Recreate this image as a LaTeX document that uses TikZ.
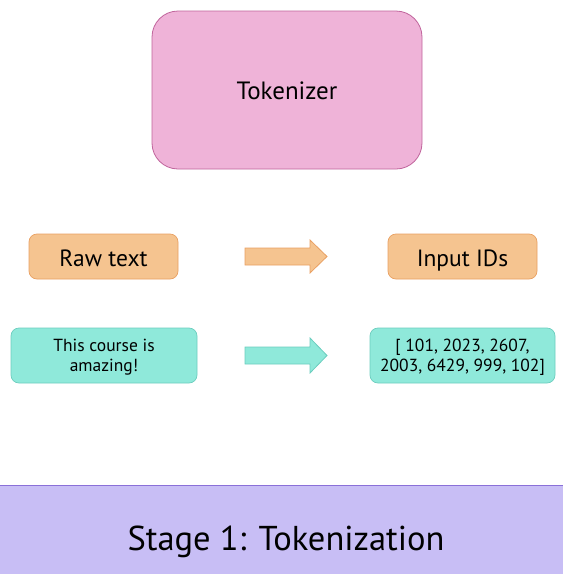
\documentclass[tikz,border=0pt]{standalone}
\usepackage{fontspec}
\setmainfont{PT Sans}
\definecolor{pinkfill}{HTML}{EFB3D8}
\definecolor{pinkline}{HTML}{C0649C}
\definecolor{orangefill}{HTML}{F5C490}
\definecolor{orangeline}{HTML}{E9A062}
\definecolor{tealfill}{HTML}{8FE9DA}
\definecolor{tealline}{HTML}{6CCDBE}
\definecolor{bandfill}{HTML}{C8BEF5}
\definecolor{bandline}{HTML}{8A70D8}
\tikzset{
  box/.style={rounded corners=8pt, line width=0.7pt},
  orangebox/.style={box, draw=orangeline, fill=orangefill},
  tealbox/.style={box, draw=tealline, fill=tealfill},
  bigtext/.style={anchor=base, inner sep=0pt, font=\fontsize{23.5}{27}\selectfont},
  smalltext/.style={anchor=base, inner sep=0pt, font=\fontsize{17.5}{20}\selectfont},
}
\begin{document}
\begin{tikzpicture}[x=1pt,y=-1pt]
\useasboundingbox (0,0) rectangle (563,574);
% Tokenizer
\draw[pinkline, fill=pinkfill, line width=0.8pt, rounded corners=26pt] (152,11) rectangle (422,169);
\node[anchor=base, inner sep=0pt, font=\fontsize{25}{29}\selectfont] (tok) at (287,99) {Tokenizer};
% orange row
\draw[orangebox] (29,234) rectangle (178,279);
\node[bigtext] (raw) at (103.5,266) {Raw text};
\draw[orangebox] (388,234) rectangle (537,279);
\node[bigtext] (ids) at (462.5,266) {Input IDs};
\draw[orangeline, fill=orangefill, line width=0.8pt] (245,248) -- (310,248) -- (310,240) -- (327,256.5) -- (310,273) -- (310,265) -- (245,265) -- cycle;
% teal row
\draw[tealbox] (11,328) rectangle (197,383);
\node[smalltext] (txt1) at (104,351.5) {This course is};
\node[smalltext] (txt2) at (104,371.5) {amazing!};
\draw[tealbox] (370,328) rectangle (555,383);
\node[smalltext] (nums1) at (462.5,351.5) {[ 101, 2023, 2607,};
\node[smalltext] (nums2) at (462.5,371.5) {2003, 6429, 999, 102]};
\draw[tealline, fill=tealfill, line width=0.8pt] (245,347) -- (310,347) -- (310,338) -- (327,355.5) -- (310,373) -- (310,364) -- (245,364) -- cycle;
% band
\fill[bandfill] (0,485) rectangle (563,574);
\draw[bandline, line width=1pt] (0,485) -- (563,485);
\node[anchor=base, inner sep=0pt, font=\fontsize{34.5}{40}\selectfont] (stage) at (286,550) {Stage 1: Tokenization};
\end{tikzpicture}
\end{document}
